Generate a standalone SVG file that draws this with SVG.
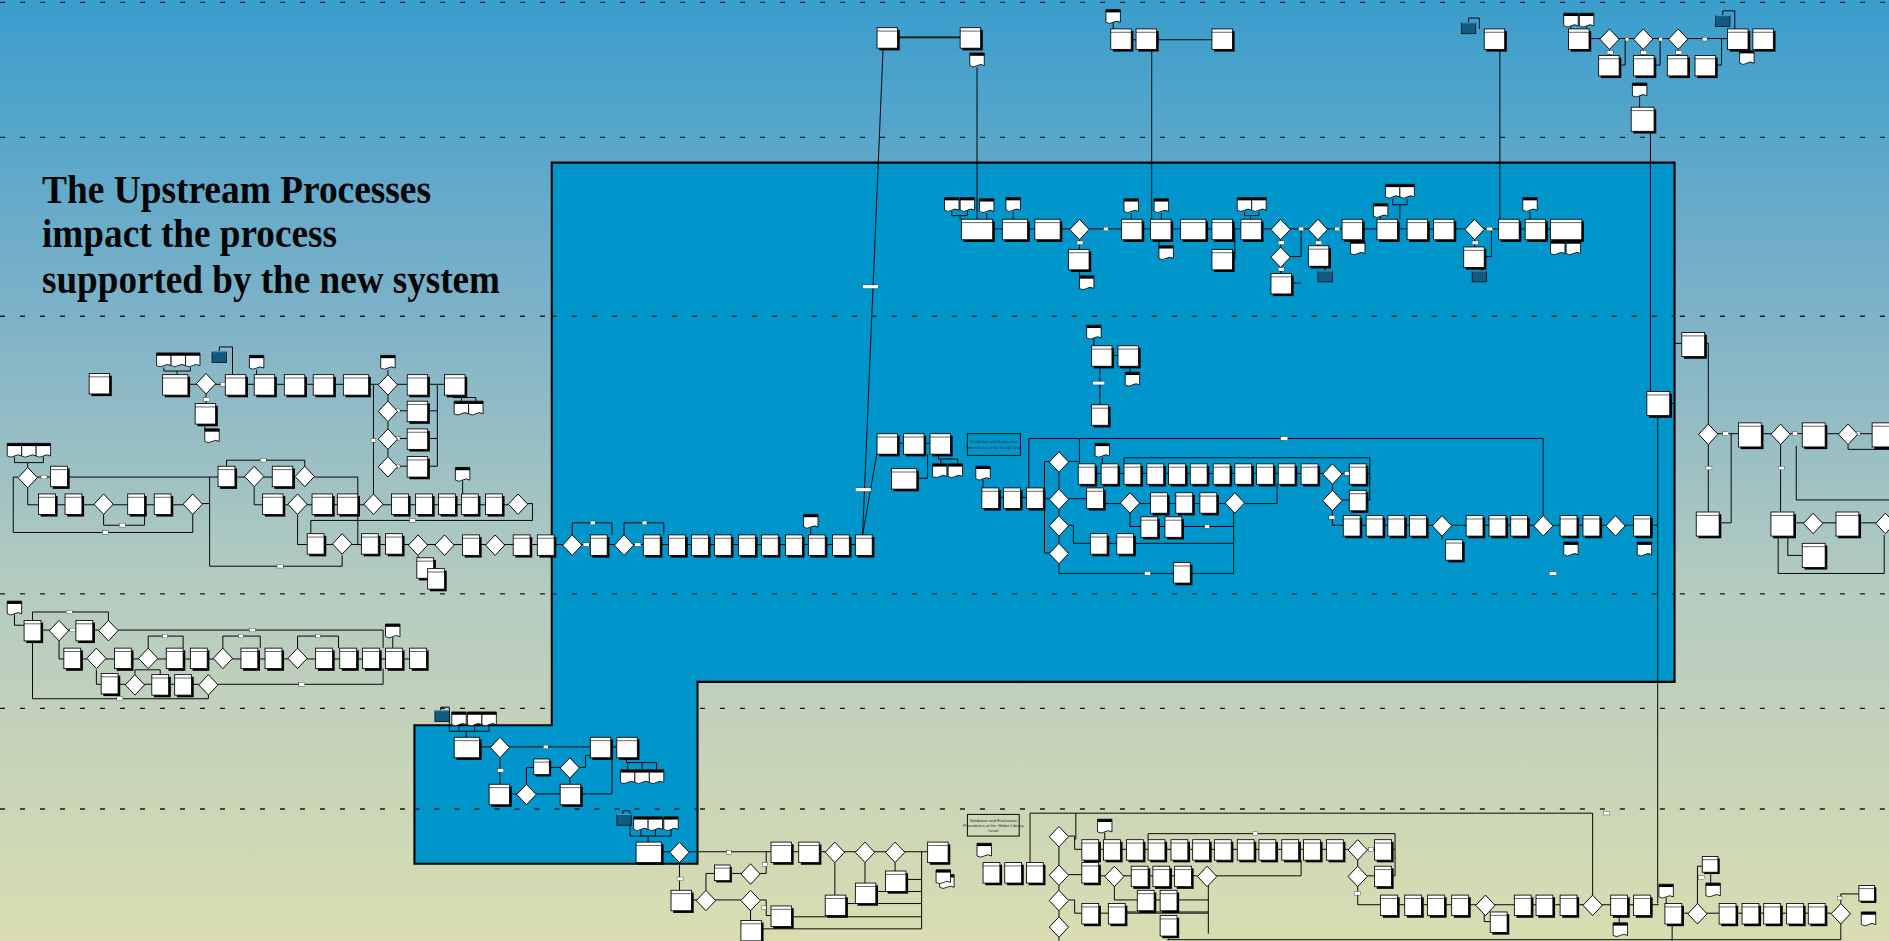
<svg xmlns="http://www.w3.org/2000/svg" width="1889" height="941" viewBox="0 0 1889 941">
<defs>
<linearGradient id="bg" x1="0" y1="0" x2="0" y2="1">
<stop offset="0" stop-color="#3a9dcc"/><stop offset="0.33" stop-color="#7db2c8"/><stop offset="0.62" stop-color="#b4cbc0"/><stop offset="1" stop-color="#d9ddb1"/>
</linearGradient>
<style>
.sh{fill:#000}
.bx{fill:#fff;stroke:#000;stroke-width:.7}
.hd{fill:none;stroke:#000;stroke-width:.5}
.dm{fill:#fff;stroke:#000;stroke-width:.8}
.ln{fill:none;stroke:#000;stroke-width:.8}
.lt{fill:none;stroke:#111;stroke-width:1.5}
.lb{fill:#fff;stroke:#000;stroke-width:.25}
.dash{stroke:#1a1a1a;stroke-width:1.1;stroke-dasharray:4.2 12.4}
.vt{font-family:"Liberation Sans",Arial,sans-serif;font-size:3.5px;fill:#16313d;text-anchor:middle}
.ttl{font-family:"Liberation Serif","Times New Roman",serif;font-weight:bold;font-size:40px;fill:#050505}
</style>
<g id="B"><rect class="sh" x="1.8" y="1.8" width="14" height="17"/><rect class="bx" width="14" height="17"/><path class="hd" d="M0,2.8H14"/></g>
<g id="M"><rect class="sh" x="1.8" y="1.8" width="17" height="17"/><rect class="bx" width="17" height="17"/><path class="hd" d="M0,2.8H17"/></g>
<g id="W"><rect class="sh" x="1.8" y="1.8" width="21" height="17"/><rect class="bx" width="21" height="17"/><path class="hd" d="M0,2.8H21"/></g>
<g id="X"><rect class="sh" x="1.8" y="1.8" width="26" height="17"/><rect class="bx" width="26" height="17"/><path class="hd" d="M0,2.8H26"/></g>
<g id="T"><rect class="sh" x="1.8" y="1.8" width="19" height="20"/><rect class="bx" width="19" height="20"/><path class="hd" d="M0,2.8H19"/></g>
<g id="S"><rect class="sh" x="1.5" y="1.5" width="13" height="13"/><rect class="bx" width="13" height="13"/><path class="hd" d="M0,2.6H13"/></g>
<polygon id="G" class="dm" points="8,0 16,8.5 8,17 0,8.5"/>
<g id="K"><path class="bx" d="M0,0H12V10.5Q9,8.5 6,10.5T0,10.5Z"/><rect width="12" height="2.3"/></g>
<g id="C"><rect x="0" y="1" width="12" height="9" fill="#0e5c82" stroke="#000" stroke-width=".6"/><path d="M0,1H12" stroke="#5ab0d6" stroke-width=".8"/></g>
</defs>
<rect width="1889" height="941" fill="url(#bg)"/>
<g transform="scale(1.20472)">
<g id="lanes">
<path class="dash" d="M0,2H1568M0,114H1568M0,262.5H1568M0,493H1568M0,588H1568M0,671.5H1568"/>
</g>
<polygon id="system-region" points="458,135 1390,135 1390,566 579,566 579,717 344,717 344,602 458,602" fill="#0096cb" stroke="#000" stroke-width="1.7"/>
<path class="dash" d="M458,262.5H1390M458,493H1390M344,671.5H579" opacity="0.9"/>
<g id="connectors">
<path class="lt" d="M745,31H797"/>
<path class="ln" d="M733,41L716,444M811,56V182M924,19V24M939,33H1006M956,41V182M1219,19V15H1228V24M1245,41V182M1304,22V24M1317,22V24M1319,32H1434M1336,41V46M1364,41V46M1393,41V46M1344,54H1349V32M1373,54H1378V32M1424,54H1429V32M1430,13V9H1440V24M1361,80V89M1370,109V325"/>
<path class="ln" d="M1386,335H1390M1390,285H1396M1414,285H1418V352M1418,360H1568M1418,369V425M1427,434H1437V360M1478,369V425M1489,434H1568M1484,444V461H1496M1476,445V476H1564V444M1534,369V373H1568M1491,370V415H1568"/>
<path class="ln" d="M790,175V179H803V175M797,179V182M819,177V182M841,176V182M824,190H1287M896,199V207M896,224V229M939,177V182M964,177V182M962,199V204M1033,176V179H1045V176M1038,179V182M1063,199V205M1063,222V227M1071,213H1080V190M1072,235H1080M1094,199V204M1100,220V225M1120,199V200M1146,180V182M1156,165V170H1168V165M1162,170V182M1224,199V205M1230,222V225M1232,213H1238V190M1270,176V182M1025,190V215H1023"/>
<path class="ln" d="M136,305V308H158V305M147,308V311M157,319H369M171,327V335M170,352V356M182,292V288H193V311M213,307V311M322,307V311M322,328V333M322,350V356M322,373V379M330,341H338M330,364H338M330,387H338M356,341H363M356,364H363M356,387H363M363,319V387M310,319V410M376,328V330H395V333M383,330V333"/>
<path class="ln" d="M12,379V384H36V379M23,384V388M31,396H42M56,396H181M194,396H245M261,396H297V452H300M23,405V419H32M46,419H152M86,427V436H120V427M15,396H11V442H160V427M168,418H174M174,396V470H284V461M188,387V382H253V387M211,404V419H218M232,419H422M247,427V452H255M270,452H724M347,461V463M438,418H442V432H258V443M384,399V410"/>
<path class="ln" d="M475,444V434H508V444M518,444V434H551V444M673,438V444"/>
<path class="ln" d="M12,510V519H20M33,523H82M98,523H318V538M27,515V508H90V515M49,532V547H53M66,547H354M123,538V528H152V538M185,538V528H216V538M247,538V528H281V538M326,529V538M80,556V568H84M97,568H165M112,560V556H133V560M181,568H318V555M27,532V580H173V577"/>
<path class="ln" d="M908,281V287M923,295H928M938,303V309M913,303V336M745,368H772M779,377V381H795V385M781,381V385M770,377V397H761M728,376L716,444M816,398V405M829,413H833M847,413H852M866,414H871M854,405V364H1281V428M896,364V385M933,385V380H1137V415H1134M879,392V406M879,423V428M879,445V451M887,383H895M909,393H1098M1114,393H1120M1106,402V407M1114,415H1120M1134,393H1137M1106,424V436H1115M1129,436H1376M1197,445V448M887,414H902M916,418H1017M1033,418H1060V402M938,426V437H947M961,437H967M981,437H1024M887,436H891V451H905M919,451H927M941,451H1024M1024,418V476M879,468V476H1024M871,383H867V459H871M915,380V385"/>
<path class="ln" d="M366,591V587H373V607H406M381,602V607M394,602V607M406,602V607M387,607V612M398,620H490M415,629V651M423,659H465M437,651V637H443M455,637H465M473,645V651M481,637H486V627H490M483,659H508V620M506,620H512M520,629V633H545V639M521,633V639M533,633V639M517,677V673H523V694H557M532,689V694M544,689V694M557,689V694M538,694V699M549,707H770M564,716V739M573,747H615M586,739V725H593M606,725H615M631,725H636V707M631,747H636V760H640M623,756V764M693,716V743M718,716V733M743,716V723M753,730H765M728,740H765M702,750H765M656,761H765M631,771H765M765,707V771"/>
<path class="ln" d="M855,716V675H1322V743M893,675V697M953,697V692H1158V727H1155M917,691V697M879,703V718M879,735V739M879,756V761M887,694H892V705H898M912,705H1119M1135,705H1141M1155,705H1158M1127,714V719M1135,727H1141M1127,736V751H1146M1160,751H1377M1232,759V765H1237M1344,760V766M887,726H898M912,727H994M1009,727H1080V714M925,736V747H944M958,747H963M977,747H1003M925,757H1003M1003,727V775M887,747H892V758H898M912,758H920M934,758H1003M879,778V781M969,780H1528V767M970,777V780M1383,745V750M1396,758H1520M1409,750V719H1413M1420,722V733M1528,750V742H1543M1376,345V750M1388,767V781"/>
<g id="line-labels">
<rect class="lb" x="716" y="236.5" width="13" height="3"/><rect class="lb" x="710" y="405" width="13" height="3"/><rect class="lb" x="907" y="316.5" width="10" height="3"/><rect class="lb" x="1063" y="362.5" width="6" height="3"/><rect class="lb" x="1286" y="474.5" width="6" height="3"/><rect class="lb" x="916" y="188.5" width="4" height="3"/><rect class="lb" x="1078" y="188.5" width="4" height="3"/><rect class="lb" x="1108" y="188.5" width="4" height="3"/><rect class="lb" x="1234" y="188.5" width="5" height="3"/><rect class="lb" x="894" y="200" width="5" height="3"/><rect class="lb" x="1061" y="200" width="5" height="3"/><rect class="lb" x="1061" y="222" width="5" height="3"/><rect class="lb" x="1092" y="200" width="5" height="3"/><rect class="lb" x="1222" y="200" width="5" height="3"/><rect class="lb" x="1334" y="42" width="5" height="3"/><rect class="lb" x="1362" y="42" width="5" height="3"/><rect class="lb" x="1391" y="42" width="5" height="3"/><rect class="lb" x="1349" y="31" width="3" height="3"/><rect class="lb" x="1377" y="31" width="3" height="3"/><rect class="lb" x="1413" y="31" width="4" height="3"/><rect class="lb" x="1430" y="358.5" width="5" height="3"/><rect class="lb" x="1488" y="358.5" width="4" height="3"/><rect class="lb" x="1416" y="387" width="5" height="3"/><rect class="lb" x="1476" y="387" width="5" height="3"/><rect class="lb" x="1539" y="358.5" width="5" height="3"/><rect class="lb" x="34" y="394.5" width="5" height="3"/><rect class="lb" x="99" y="434.5" width="5" height="3"/><rect class="lb" x="85" y="440.5" width="5" height="3"/><rect class="lb" x="230" y="468.5" width="5" height="3"/><rect class="lb" x="216" y="380.5" width="5" height="3"/><rect class="lb" x="170" y="317.5" width="5" height="3"/><rect class="lb" x="183" y="317.5" width="4" height="3"/><rect class="lb" x="169" y="330" width="5" height="3"/><rect class="lb" x="328" y="339.5" width="4" height="3"/><rect class="lb" x="328" y="362.5" width="4" height="3"/><rect class="lb" x="328" y="385.5" width="4" height="3"/><rect class="lb" x="308" y="364" width="4" height="3"/><rect class="lb" x="340" y="430.5" width="5" height="3"/><rect class="lb" x="484" y="450.5" width="5" height="3"/><rect class="lb" x="527" y="450.5" width="5" height="3"/><rect class="lb" x="490" y="432.5" width="4" height="3"/><rect class="lb" x="533" y="432.5" width="4" height="3"/><rect class="lb" x="58" y="521.5" width="5" height="3"/><rect class="lb" x="55" y="506.5" width="5" height="3"/><rect class="lb" x="207" y="521.5" width="5" height="3"/><rect class="lb" x="97" y="578.5" width="5" height="3"/><rect class="lb" x="248" y="566.5" width="5" height="3"/><rect class="lb" x="135" y="526.5" width="4" height="3"/><rect class="lb" x="198" y="526.5" width="4" height="3"/><rect class="lb" x="262" y="526.5" width="4" height="3"/><rect class="lb" x="451" y="618.5" width="4" height="3"/><rect class="lb" x="413" y="638" width="5" height="3"/><rect class="lb" x="603" y="706" width="4" height="3"/><rect class="lb" x="562" y="728" width="5" height="3"/><rect class="lb" x="633" y="716" width="4" height="3"/><rect class="lb" x="632" y="752" width="4" height="3"/><rect class="lb" x="1331" y="673.5" width="5" height="3"/><rect class="lb" x="1040" y="690.5" width="4" height="3"/><rect class="lb" x="1124" y="740" width="5" height="3"/><rect class="lb" x="1136" y="703.5" width="4" height="3"/><rect class="lb" x="1204" y="449.5" width="4" height="3"/><rect class="lb" x="1248" y="434.5" width="4" height="3"/><rect class="lb" x="1103" y="428" width="5" height="3"/><rect class="lb" x="1116" y="391.5" width="4" height="3"/><rect class="lb" x="1000" y="435.5" width="4" height="3"/><rect class="lb" x="950" y="474.5" width="5" height="3"/><rect class="lb" x="1410" y="727" width="5" height="3"/><rect class="lb" x="1404" y="756.5" width="4" height="3"/><rect class="lb" x="1525" y="744" width="4" height="3"/></g>
</g>
<g id="nodes">
<g id="n1"><use href="#M" x="728" y="23"/></g><g id="n2"><use href="#M" x="797" y="23"/></g><g id="n3"><use href="#K" x="805" y="44"/></g><g id="n4"><use href="#K" x="918" y="8"/></g><g id="n5"><use href="#M" x="922" y="24"/></g><g id="n6"><use href="#M" x="943" y="24"/></g><g id="n7"><use href="#M" x="1006" y="24"/></g><g id="n8"><use href="#C" x="1213" y="18"/></g><g id="n9"><use href="#M" x="1232" y="24"/></g>
<g id="n10"><use href="#K" x="1298" y="11"/></g><g id="n11"><use href="#K" x="1311" y="11"/></g><g id="n12"><use href="#M" x="1302" y="24"/></g><g id="n13"><use href="#G" x="1328" y="24"/></g><g id="n14"><use href="#G" x="1356" y="24"/></g><g id="n15"><use href="#G" x="1385" y="24"/></g><g id="n16"><use href="#M" x="1327" y="46"/></g><g id="n17"><use href="#M" x="1356" y="46"/></g><g id="n18"><use href="#M" x="1384" y="46"/></g><g id="n19"><use href="#M" x="1407" y="46"/></g><g id="n20"><use href="#C" x="1424" y="12"/></g><g id="n21"><use href="#M" x="1434" y="24"/></g><g id="n22"><use href="#M" x="1455" y="24"/></g><g id="n23"><use href="#K" x="1444" y="42"/></g><g id="n24"><use href="#K" x="1355" y="69"/></g><g id="n25"><use href="#T" x="1354" y="89"/></g><g id="n26"><use href="#T" x="1367" y="325"/></g>
<g id="n27"><use href="#T" x="1396" y="276"/></g><g id="n28"><use href="#G" x="1410" y="352"/></g><g id="n29"><use href="#T" x="1443" y="351"/></g><g id="n30"><use href="#G" x="1470" y="352"/></g><g id="n31"><use href="#T" x="1496" y="351"/></g><g id="n32"><use href="#G" x="1526" y="352"/></g><g id="n33"><use href="#T" x="1554" y="351"/></g><g id="n34"><use href="#T" x="1408" y="425"/></g><g id="n35"><use href="#T" x="1470" y="425"/></g><g id="n36"><use href="#G" x="1497" y="426"/></g><g id="n37"><use href="#T" x="1524" y="425"/></g><g id="n38"><use href="#G" x="1557" y="426"/></g><g id="n39"><use href="#T" x="1496" y="451"/></g>
<g id="n40"><use href="#K" x="784" y="164"/></g><g id="n41"><use href="#K" x="797" y="164"/></g><g id="n42"><use href="#K" x="813" y="165"/></g><g id="n43"><use href="#K" x="835" y="164"/></g><g id="n44"><use href="#X" x="798" y="182"/></g><g id="n45"><use href="#W" x="832" y="182"/></g><g id="n46"><use href="#W" x="859" y="182"/></g><g id="n47"><use href="#G" x="888" y="182"/></g><g id="n48"><use href="#M" x="887" y="207"/></g><g id="n49"><use href="#K" x="896" y="229"/></g><g id="n50"><use href="#K" x="933" y="165"/></g><g id="n51"><use href="#M" x="931" y="182"/></g><g id="n52"><use href="#K" x="958" y="165"/></g><g id="n53"><use href="#M" x="955" y="182"/></g><g id="n54"><use href="#K" x="962" y="204"/></g><g id="n55"><use href="#W" x="980" y="182"/></g><g id="n56"><use href="#M" x="1006" y="182"/></g><g id="n57"><use href="#M" x="1006" y="207"/></g><g id="n58"><use href="#K" x="1027" y="164"/></g><g id="n59"><use href="#K" x="1039" y="164"/></g><g id="n60"><use href="#M" x="1030" y="182"/></g><g id="n61"><use href="#G" x="1055" y="182"/></g><g id="n62"><use href="#G" x="1055" y="205"/></g><g id="n63"><use href="#M" x="1055" y="227"/></g><g id="n64"><use href="#G" x="1086" y="182"/></g><g id="n65"><use href="#M" x="1086" y="204"/></g><g id="n66"><use href="#C" x="1094" y="224"/></g><g id="n67"><use href="#M" x="1114" y="182"/></g><g id="n68"><use href="#K" x="1121" y="200"/></g><g id="n69"><use href="#K" x="1140" y="169"/></g><g id="n70"><use href="#K" x="1150" y="153"/></g><g id="n71"><use href="#K" x="1162" y="153"/></g><g id="n72"><use href="#M" x="1143" y="182"/></g><g id="n73"><use href="#M" x="1168" y="182"/></g><g id="n74"><use href="#M" x="1190" y="182"/></g><g id="n75"><use href="#G" x="1216" y="182"/></g><g id="n76"><use href="#M" x="1215" y="205"/></g><g id="n77"><use href="#C" x="1222" y="224"/></g><g id="n78"><use href="#M" x="1244" y="182"/></g><g id="n79"><use href="#K" x="1264" y="164"/></g><g id="n80"><use href="#M" x="1266" y="182"/></g><g id="n81"><use href="#X" x="1287" y="182"/></g><g id="n82"><use href="#K" x="1287" y="200"/></g><g id="n83"><use href="#K" x="1300" y="200"/></g>
<g id="n84"><use href="#M" x="74" y="310"/></g><g id="n85"><use href="#K" x="130" y="293"/></g><g id="n86"><use href="#K" x="142" y="293"/></g><g id="n87"><use href="#K" x="154" y="293"/></g><g id="n88"><use href="#W" x="135" y="311"/></g><g id="n89"><use href="#G" x="163" y="310"/></g><g id="n90"><use href="#M" x="162" y="335"/></g><g id="n91"><use href="#K" x="170" y="356"/></g><g id="n92"><use href="#C" x="176" y="291"/></g><g id="n93"><use href="#M" x="187" y="311"/></g><g id="n94"><use href="#K" x="207" y="295"/></g><g id="n95"><use href="#M" x="211" y="311"/></g><g id="n96"><use href="#M" x="236" y="311"/></g><g id="n97"><use href="#M" x="260" y="311"/></g><g id="n98"><use href="#W" x="285" y="311"/></g><g id="n99"><use href="#K" x="316" y="295"/></g><g id="n100"><use href="#G" x="314" y="311"/></g><g id="n101"><use href="#G" x="314" y="333"/></g><g id="n102"><use href="#G" x="314" y="356"/></g><g id="n103"><use href="#G" x="314" y="379"/></g><g id="n104"><use href="#M" x="338" y="311"/></g><g id="n105"><use href="#M" x="338" y="333"/></g><g id="n106"><use href="#M" x="338" y="356"/></g><g id="n107"><use href="#M" x="338" y="379"/></g><g id="n108"><use href="#M" x="369" y="311"/></g><g id="n109"><use href="#K" x="377" y="333"/></g><g id="n110"><use href="#K" x="389" y="333"/></g>
<g id="n111"><use href="#K" x="6" y="368"/></g><g id="n112"><use href="#K" x="18" y="368"/></g><g id="n113"><use href="#K" x="30" y="368"/></g><g id="n114"><use href="#G" x="15" y="388"/></g><g id="n115"><use href="#B" x="42" y="387"/></g><g id="n116"><use href="#B" x="32" y="410"/></g><g id="n117"><use href="#B" x="54" y="410"/></g><g id="n118"><use href="#G" x="78" y="410"/></g><g id="n119"><use href="#B" x="106" y="410"/></g><g id="n120"><use href="#B" x="128" y="410"/></g><g id="n121"><use href="#G" x="152" y="410"/></g><g id="n122"><use href="#B" x="181" y="387"/></g><g id="n123"><use href="#G" x="203" y="387"/></g><g id="n124"><use href="#M" x="226" y="387"/></g><g id="n125"><use href="#G" x="245" y="387"/></g><g id="n126"><use href="#M" x="218" y="410"/></g><g id="n127"><use href="#G" x="239" y="410"/></g><g id="n128"><use href="#M" x="259" y="410"/></g><g id="n129"><use href="#M" x="280" y="410"/></g><g id="n130"><use href="#G" x="302" y="410"/></g><g id="n131"><use href="#B" x="325" y="410"/></g><g id="n132"><use href="#B" x="345" y="410"/></g><g id="n133"><use href="#B" x="364" y="410"/></g><g id="n134"><use href="#K" x="378" y="388"/></g><g id="n135"><use href="#B" x="383" y="410"/></g><g id="n136"><use href="#B" x="403" y="410"/></g><g id="n137"><use href="#G" x="422" y="410"/></g>
<g id="n138"><use href="#B" x="255" y="443"/></g><g id="n139"><use href="#G" x="276" y="443"/></g><g id="n140"><use href="#B" x="300" y="443"/></g><g id="n141"><use href="#B" x="320" y="443"/></g><g id="n142"><use href="#G" x="339" y="444"/></g><g id="n143"><use href="#B" x="346" y="463"/></g><g id="n144"><use href="#B" x="355" y="472"/></g><g id="n145"><use href="#G" x="361" y="444"/></g><g id="n146"><use href="#B" x="384" y="444"/></g><g id="n147"><use href="#G" x="403" y="444"/></g><g id="n148"><use href="#B" x="426" y="444"/></g><g id="n149"><use href="#B" x="446" y="444"/></g>
<g id="n150"><use href="#G" x="467" y="444"/></g><g id="n151"><use href="#B" x="490" y="444"/></g><g id="n152"><use href="#G" x="510" y="444"/></g><g id="n153"><use href="#B" x="534" y="444"/></g><g id="n154"><use href="#B" x="555" y="444"/></g><g id="n155"><use href="#B" x="574" y="444"/></g><g id="n156"><use href="#B" x="593" y="444"/></g><g id="n157"><use href="#B" x="613" y="444"/></g><g id="n158"><use href="#B" x="632" y="444"/></g><g id="n159"><use href="#B" x="652" y="444"/></g><g id="n160"><use href="#B" x="671" y="444"/></g><g id="n161"><use href="#K" x="667" y="427"/></g><g id="n162"><use href="#B" x="691" y="444"/></g><g id="n163"><use href="#B" x="710" y="444"/></g>
<g id="n164"><use href="#K" x="6" y="499"/></g><g id="n165"><use href="#B" x="20" y="515"/></g><g id="n166"><use href="#G" x="41" y="515"/></g><g id="n167"><use href="#B" x="63" y="515"/></g><g id="n168"><use href="#G" x="82" y="515"/></g><g id="n169"><use href="#B" x="53" y="538"/></g><g id="n170"><use href="#G" x="72" y="538"/></g><g id="n171"><use href="#B" x="95" y="538"/></g><g id="n172"><use href="#G" x="115" y="538"/></g><g id="n173"><use href="#B" x="138" y="538"/></g><g id="n174"><use href="#B" x="158" y="538"/></g><g id="n175"><use href="#G" x="177" y="538"/></g><g id="n176"><use href="#B" x="200" y="538"/></g><g id="n177"><use href="#B" x="220" y="538"/></g><g id="n178"><use href="#G" x="239" y="538"/></g><g id="n179"><use href="#B" x="262" y="538"/></g><g id="n180"><use href="#B" x="282" y="538"/></g><g id="n181"><use href="#B" x="301" y="538"/></g><g id="n182"><use href="#B" x="320" y="538"/></g><g id="n183"><use href="#B" x="340" y="538"/></g><g id="n184"><use href="#K" x="320" y="518"/></g><g id="n185"><use href="#B" x="84" y="559"/></g><g id="n186"><use href="#G" x="104" y="560"/></g><g id="n187"><use href="#B" x="126" y="560"/></g><g id="n188"><use href="#B" x="145" y="560"/></g><g id="n189"><use href="#G" x="165" y="560"/></g>
<g id="n190"><use href="#K" x="902" y="270"/></g><g id="n191"><use href="#M" x="906" y="287"/></g><g id="n192"><use href="#M" x="928" y="287"/></g><g id="n193"><use href="#K" x="934" y="309"/></g><g id="n194"><use href="#B" x="906" y="336"/></g>
<g id="n195"><use href="#M" x="728" y="360"/></g><g id="n196"><use href="#M" x="750" y="360"/></g><g id="n197"><use href="#M" x="772" y="360"/></g><g id="n198"><use href="#W" x="740" y="389"/></g><g id="n199"><use href="#K" x="774" y="385"/></g><g id="n200"><use href="#K" x="787" y="385"/></g>
<g id="n201"><rect x="803" y="360" width="44" height="18" fill="none" stroke="#000" stroke-width=".8"/><text class="vt" x="825" y="367.5">Validation and Evaluation</text><text class="vt" x="825" y="372.5">Procedures at the Study Level</text></g>
<g id="n202"><use href="#K" x="810" y="387"/></g><g id="n203"><use href="#B" x="815" y="405"/></g><g id="n204"><use href="#B" x="833" y="405"/></g><g id="n205"><use href="#B" x="852" y="405"/></g><g id="n206"><use href="#G" x="871" y="375"/></g><g id="n207"><use href="#G" x="871" y="406"/></g><g id="n208"><use href="#G" x="871" y="428"/></g><g id="n209"><use href="#G" x="871" y="451"/></g>
<g id="n210"><use href="#B" x="895" y="385"/></g><g id="n211"><use href="#B" x="914" y="385"/></g><g id="n212"><use href="#B" x="933" y="385"/></g><g id="n213"><use href="#B" x="952" y="385"/></g><g id="n214"><use href="#B" x="970" y="385"/></g><g id="n215"><use href="#B" x="988" y="385"/></g><g id="n216"><use href="#B" x="1007" y="385"/></g><g id="n217"><use href="#B" x="1025" y="385"/></g><g id="n218"><use href="#B" x="1043" y="385"/></g><g id="n219"><use href="#B" x="1061" y="385"/></g><g id="n220"><use href="#B" x="1080" y="385"/></g><g id="n221"><use href="#K" x="909" y="368"/></g>
<g id="n222"><use href="#G" x="1098" y="385"/></g><g id="n223"><use href="#B" x="1120" y="385"/></g><g id="n224"><use href="#G" x="1098" y="407"/></g><g id="n225"><use href="#B" x="1120" y="407"/></g><g id="n226"><use href="#B" x="902" y="405"/></g><g id="n227"><use href="#G" x="930" y="409"/></g><g id="n228"><use href="#B" x="955" y="409"/></g><g id="n229"><use href="#B" x="976" y="409"/></g><g id="n230"><use href="#B" x="996" y="409"/></g><g id="n231"><use href="#G" x="1017" y="409"/></g><g id="n232"><use href="#B" x="947" y="429"/></g><g id="n233"><use href="#B" x="967" y="429"/></g><g id="n234"><use href="#B" x="905" y="443"/></g><g id="n235"><use href="#B" x="927" y="443"/></g><g id="n236"><use href="#B" x="974" y="467"/></g>
<g id="n237"><use href="#B" x="1115" y="428"/></g><g id="n238"><use href="#B" x="1134" y="428"/></g><g id="n239"><use href="#B" x="1152" y="428"/></g><g id="n240"><use href="#B" x="1170" y="428"/></g><g id="n241"><use href="#G" x="1189" y="428"/></g><g id="n242"><use href="#B" x="1200" y="448"/></g><g id="n243"><use href="#B" x="1217" y="428"/></g><g id="n244"><use href="#B" x="1236" y="428"/></g><g id="n245"><use href="#B" x="1254" y="428"/></g><g id="n246"><use href="#G" x="1273" y="428"/></g><g id="n247"><use href="#B" x="1295" y="428"/></g><g id="n248"><use href="#K" x="1298" y="450"/></g><g id="n249"><use href="#B" x="1314" y="428"/></g><g id="n250"><use href="#G" x="1333" y="428"/></g><g id="n251"><use href="#B" x="1356" y="428"/></g><g id="n252"><use href="#K" x="1359" y="450"/></g>
<g id="n253"><use href="#C" x="361" y="589"/></g><g id="n254"><use href="#K" x="375" y="591"/></g><g id="n255"><use href="#K" x="388" y="591"/></g><g id="n256"><use href="#K" x="400" y="591"/></g><g id="n257"><use href="#W" x="377" y="612"/></g><g id="n258"><use href="#G" x="407" y="612"/></g><g id="n259"><use href="#M" x="490" y="612"/></g><g id="n260"><use href="#M" x="512" y="612"/></g><g id="n261"><use href="#K" x="515" y="639"/></g><g id="n262"><use href="#K" x="527" y="639"/></g><g id="n263"><use href="#K" x="539" y="639"/></g><g id="n264"><use href="#S" x="443" y="630"/></g><g id="n265"><use href="#G" x="465" y="629"/></g><g id="n266"><use href="#M" x="406" y="651"/></g><g id="n267"><use href="#G" x="429" y="651"/></g><g id="n268"><use href="#M" x="465" y="651"/></g>
<g id="n269"><use href="#C" x="512" y="675"/></g><g id="n270"><use href="#K" x="526" y="678"/></g><g id="n271"><use href="#K" x="538" y="678"/></g><g id="n272"><use href="#K" x="551" y="678"/></g><g id="n273"><use href="#W" x="528" y="699"/></g><g id="n274"><use href="#G" x="556" y="699"/></g>
<g id="n275"><use href="#M" x="640" y="699"/></g><g id="n276"><use href="#M" x="663" y="699"/></g><g id="n277"><use href="#G" x="685" y="699"/></g><g id="n278"><use href="#G" x="710" y="699"/></g><g id="n279"><use href="#G" x="735" y="699"/></g><g id="n280"><use href="#M" x="770" y="699"/></g><g id="n281"><use href="#K" x="780" y="726"/><use href="#K" x="777" y="722"/></g><g id="n282"><use href="#S" x="593" y="718"/></g><g id="n283"><use href="#G" x="615" y="717"/></g><g id="n284"><use href="#M" x="557" y="739"/></g><g id="n285"><use href="#G" x="578" y="739"/></g><g id="n286"><use href="#G" x="615" y="739"/></g><g id="n287"><use href="#M" x="640" y="752"/></g><g id="n288"><use href="#M" x="615" y="764"/></g><g id="n289"><use href="#M" x="685" y="743"/></g><g id="n290"><use href="#M" x="710" y="733"/></g><g id="n291"><use href="#M" x="735" y="723"/></g>
<g id="n292"><rect x="803" y="676" width="43" height="18" fill="none" stroke="#000" stroke-width=".8"/><text class="vt" x="824.5" y="682">Validation and Evaluation</text><text class="vt" x="824.5" y="686.3">Procedures at the Global Library</text><text class="vt" x="824.5" y="690.6">Level</text></g>
<g id="n293"><use href="#K" x="811" y="700"/></g><g id="n294"><use href="#B" x="816" y="716"/></g><g id="n295"><use href="#B" x="834" y="716"/></g><g id="n296"><use href="#B" x="852" y="716"/></g><g id="n297"><use href="#G" x="871" y="686"/></g><g id="n298"><use href="#G" x="871" y="718"/></g><g id="n299"><use href="#G" x="871" y="739"/></g><g id="n300"><use href="#G" x="871" y="761"/></g>
<g id="n301"><use href="#B" x="898" y="697"/></g><g id="n302"><use href="#K" x="911" y="680"/></g><g id="n303"><use href="#B" x="916" y="697"/></g><g id="n304"><use href="#B" x="935" y="697"/></g><g id="n305"><use href="#B" x="953" y="697"/></g><g id="n306"><use href="#B" x="972" y="697"/></g><g id="n307"><use href="#B" x="990" y="697"/></g><g id="n308"><use href="#B" x="1008" y="697"/></g><g id="n309"><use href="#B" x="1027" y="697"/></g><g id="n310"><use href="#B" x="1045" y="697"/></g><g id="n311"><use href="#B" x="1064" y="697"/></g><g id="n312"><use href="#B" x="1082" y="697"/></g><g id="n313"><use href="#B" x="1101" y="697"/></g>
<g id="n314"><use href="#G" x="1119" y="697"/></g><g id="n315"><use href="#B" x="1141" y="697"/></g><g id="n316"><use href="#G" x="1119" y="719"/></g><g id="n317"><use href="#B" x="1141" y="719"/></g><g id="n318"><use href="#B" x="898" y="716"/></g><g id="n319"><use href="#G" x="917" y="719"/></g><g id="n320"><use href="#B" x="939" y="719"/></g><g id="n321"><use href="#B" x="957" y="719"/></g><g id="n322"><use href="#B" x="975" y="719"/></g><g id="n323"><use href="#G" x="994" y="719"/></g><g id="n324"><use href="#B" x="944" y="739"/></g><g id="n325"><use href="#B" x="963" y="739"/></g><g id="n326"><use href="#B" x="898" y="750"/></g><g id="n327"><use href="#B" x="920" y="750"/></g><g id="n328"><use href="#B" x="963" y="760"/></g>
<g id="n329"><use href="#B" x="1146" y="743"/></g><g id="n330"><use href="#B" x="1166" y="743"/></g><g id="n331"><use href="#B" x="1185" y="743"/></g><g id="n332"><use href="#B" x="1205" y="743"/></g><g id="n333"><use href="#G" x="1225" y="743"/></g><g id="n334"><use href="#B" x="1237" y="757"/></g><g id="n335"><use href="#B" x="1257" y="743"/></g><g id="n336"><use href="#B" x="1275" y="743"/></g><g id="n337"><use href="#B" x="1295" y="743"/></g><g id="n338"><use href="#G" x="1314" y="743"/></g><g id="n339"><use href="#B" x="1337" y="743"/></g><g id="n340"><use href="#B" x="1356" y="743"/></g><g id="n341"><use href="#K" x="1339" y="766"/></g>
<g id="n342"><use href="#K" x="1377" y="734"/></g><g id="n343"><use href="#B" x="1382" y="750"/></g><g id="n344"><use href="#G" x="1401" y="750"/></g><g id="n345"><use href="#S" x="1413" y="711"/></g><g id="n346"><use href="#K" x="1416" y="733"/></g><g id="n347"><use href="#B" x="1427" y="750"/></g><g id="n348"><use href="#B" x="1446" y="750"/></g><g id="n349"><use href="#B" x="1464" y="750"/></g><g id="n350"><use href="#B" x="1483" y="750"/></g><g id="n351"><use href="#B" x="1501" y="750"/></g><g id="n352"><use href="#G" x="1520" y="750"/></g><g id="n353"><use href="#S" x="1543" y="735"/></g><g id="n354"><use href="#K" x="1545" y="757"/></g>
</g>
</g>
<g id="title">
<text class="ttl" x="42" y="203" textLength="389" lengthAdjust="spacingAndGlyphs">The Upstream Processes</text>
<text class="ttl" x="42" y="247" textLength="295" lengthAdjust="spacingAndGlyphs">impact the process</text>
<text class="ttl" x="42" y="293" textLength="458" lengthAdjust="spacingAndGlyphs">supported by the new system</text>
</g>
</svg>
